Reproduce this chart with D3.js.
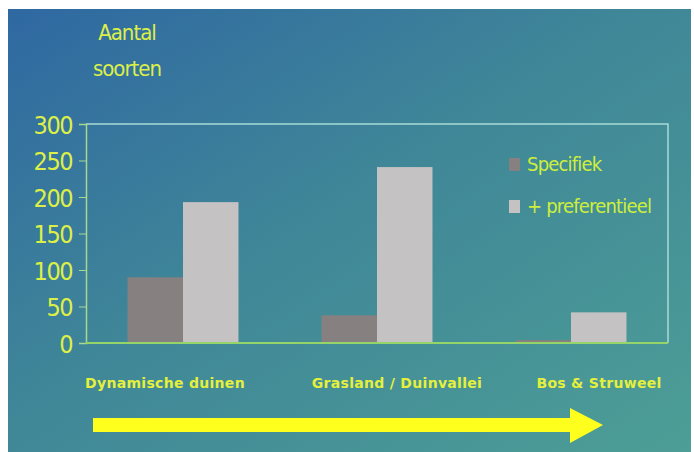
<!DOCTYPE html>
<html>
<head>
<meta charset="utf-8">
<script src="https://cdn.jsdelivr.net/npm/d3@7"></script>
<style>
  html, body { margin: 0; padding: 0; background: #ffffff; }
  #chart { display: block; }
</style>
</head>
<body>
<svg id="chart"></svg>
<script>
// data
const categories = ["Dynamische duinen", "Grasland / Duinvallei", "Bos & Struweel"];
const seriesNames = ["Specifiek", "+ preferentieel"];
const specifiek = [90, 38, 4];
const preferentieel = [193, 241, 42];
const yTicks = [0, 50, 100, 150, 200, 250, 300];
const titleLines = ["Aantal", "soorten"];

document.addEventListener("DOMContentLoaded", function() {
  const width = 694;
  const height = 452;
  const plot = { left: 86, right: 668, top: 124, bottom: 343 };
  const labelShift = [-18, 20, 28];   // category labels sit off the bar groups
  const yellow = "#dcef48";
  const colors = ["#878080", "#c4c2c2"];

  const svg = d3.select("#chart")
                .attr("width", width)
                .attr("height", height);

  // background
  const defs = svg.append("defs");
  const grad = defs.append("linearGradient")
                   .attr("id", "bg")
                   .attr("x1", "0").attr("y1", "0")
                   .attr("x2", "1").attr("y2", "1");
  grad.append("stop").attr("offset", "0%").attr("stop-color", "#2f68a2");
  grad.append("stop").attr("offset", "45%").attr("stop-color", "#3f8698");
  grad.append("stop").attr("offset", "100%").attr("stop-color", "#4d9e96");

  svg.append("rect")
     .attr("x", 8).attr("y", 9)
     .attr("width", 683).attr("height", 443)
     .attr("fill", "url(#bg)");

  const x0 = d3.scaleBand()
               .domain(categories)
               .range([plot.left, plot.right])
               .paddingInner(0.428)
               .paddingOuter(0.214);

  const x1 = d3.scaleBand()
               .domain(seriesNames)
               .range([0, x0.bandwidth()]);

  const y = d3.scaleLinear()
              .domain([0, 300])
              .range([plot.bottom, plot.top]);

  // plot frame (top and right)
  svg.append("path")
     .attr("d", `M${plot.left},${y(300)}H${plot.right}V${y(0)}`)
     .attr("fill", "none")
     .attr("stroke", "#a6dcd6")
     .attr("stroke-width", 1.5);

  // bars
  const rows = categories.map((c, i) => ({ cat: c, values: [specifiek[i], preferentieel[i]] }));
  const groups = svg.selectAll(".group")
                    .data(rows)
                    .enter()
                    .append("g")
                    .attr("class", "group")
                    .attr("transform", d => `translate(${x0(d.cat)},0)`);

  groups.selectAll("rect")
        .data(d => d.values.map((v, j) => ({ name: seriesNames[j], value: v, j: j })))
        .enter()
        .append("rect")
        .attr("x", d => x1(d.name))
        .attr("y", d => y(d.value))
        .attr("width", x1.bandwidth())
        .attr("height", d => y(0) - y(d.value))
        .attr("fill", d => colors[d.j]);

  // y axis
  const yAxis = d3.axisLeft(y).tickValues(yTicks).tickSize(7).tickPadding(7);
  const gy = svg.append("g")
                .attr("transform", `translate(${plot.left},0)`)
                .call(yAxis);
  gy.select(".domain").attr("stroke", "#a8d890").attr("stroke-width", 1.5);
  gy.selectAll(".tick line").attr("stroke", "#a8d890");
  gy.selectAll(".tick text")
    .attr("fill", yellow)
    .attr("font-family", "'DejaVu Sans Condensed', 'DejaVu Sans', sans-serif")
    .attr("font-size", 25)
    .attr("letter-spacing", -1.5)
    .attr("dy", "0.36em");

  // x axis line
  svg.append("line")
     .attr("x1", plot.left).attr("x2", plot.right)
     .attr("y1", y(0)).attr("y2", y(0))
     .attr("stroke", "#94d468")
     .attr("stroke-width", 2);

  // title
  svg.append("g")
     .selectAll("text")
     .data(titleLines)
     .enter()
     .append("text")
     .attr("x", 127)
     .attr("y", (d, i) => 40 + i * 36)
     .attr("text-anchor", "middle")
     .attr("fill", yellow)
     .attr("font-family", "'DejaVu Sans Condensed', 'DejaVu Sans', sans-serif")
     .attr("font-size", 22)
     .attr("letter-spacing", -1)
     .text(d => d);

  // legend
  const legend = svg.append("g")
                    .selectAll("g")
                    .data(seriesNames)
                    .enter()
                    .append("g")
                    .attr("transform", (d, i) => `translate(509,${158 + i * 42})`);
  legend.append("rect")
        .attr("width", 11).attr("height", 13)
        .attr("fill", (d, i) => colors[i]);
  legend.append("text")
        .attr("x", 18)
        .attr("y", 13)
        .attr("fill", "#cdef3c")
        .attr("font-family", "'DejaVu Sans Condensed', 'DejaVu Sans', sans-serif")
        .attr("font-size", 20)
        .attr("letter-spacing", -0.8)
        .text(d => d);

  // category labels
  svg.append("g")
     .selectAll("text")
     .data(categories)
     .enter()
     .append("text")
     .attr("x", (d, i) => x0(d) + x0.bandwidth() / 2 + labelShift[i])
     .attr("y", 388)
     .attr("text-anchor", "middle")
     .attr("fill", "#e4f03c")
     .attr("font-family", "'DejaVu Sans', sans-serif")
     .attr("font-weight", "bold")
     .attr("font-size", 14)
     .attr("letter-spacing", 0.3)
     .text(d => d);

  // arrow
  const ax0 = 93, ax1 = 570, tip = 603, ay = 425;
  svg.append("path")
     .attr("d", `M${ax0},${ay - 7}H${ax1}V${ay - 17}L${tip},${ay}L${ax1},${ay + 18}V${ay + 7}H${ax0}Z`)
     .attr("fill", "#ffff1e");
});
</script>
</body>
</html>
